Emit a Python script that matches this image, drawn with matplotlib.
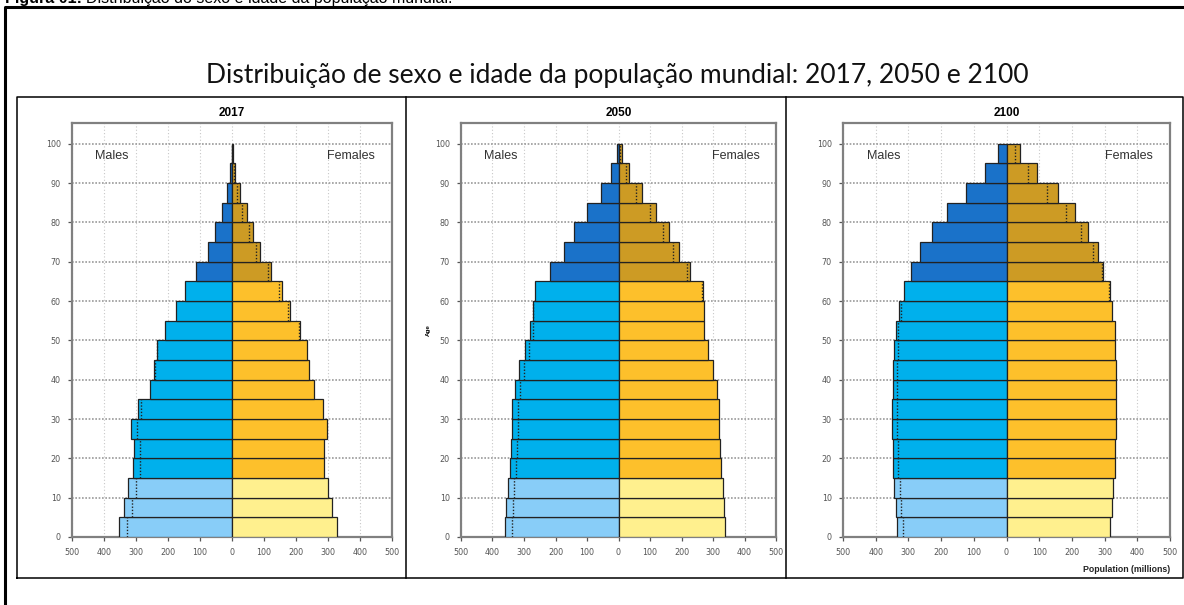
import numpy as np
import matplotlib
matplotlib.use("Agg")
import matplotlib.pyplot as plt
from matplotlib.lines import Line2D

# age groups 0-4 ... 95-99 (millions)
ages = np.arange(0, 100, 5)
years = ["2017", "2050", "2100"]

males_2017 = [353, 339, 324, 310, 305, 315, 294, 256, 245, 235,
              210, 175, 148, 114, 76, 52, 30, 16, 5, 1]
females_2017 = [327, 314, 301, 287, 287, 297, 284, 256, 241, 233,
                212, 181, 157, 123, 87, 65, 47, 24, 10, 3]
males_2050 = [359, 357, 352, 346, 342, 338, 338, 330, 316, 298,
              281, 272, 266, 219, 174, 142, 100, 56, 23, 6]
females_2050 = [339, 335, 332, 326, 323, 320, 319, 312, 300, 283,
                270, 270, 267, 228, 193, 160, 120, 75, 33, 10]
males_2100 = [336, 338, 343, 346, 348, 350, 350, 346, 346, 344,
              339, 330, 314, 292, 264, 227, 182, 123, 66, 27]
females_2100 = [317, 323, 325, 332, 332, 335, 335, 335, 335, 333,
                333, 323, 315, 296, 279, 249, 209, 156, 92, 42]

males = [males_2017, males_2050, males_2100]
females = [females_2017, females_2050, females_2100]

male_cols = ["#88cdf8", "#00b0ec", "#1a72c9"]
female_cols = ["#fff08e", "#fdc02b", "#cd9b24"]

W, H = 1184, 605
fig = plt.figure(figsize=(W / 100, H / 100), dpi=100)


def fx(px):
    return px / W


def fy(py):
    return 1 - py / H


# outer box (left/top only visible) and inner frame
fig.add_artist(Line2D([fx(5), fx(5), fx(1190)], [fy(620), fy(7), fy(7)],
                      color="black", lw=2.2))
fig.add_artist(Line2D([fx(17), fx(17), fx(1183), fx(1183), fx(17)],
                      [fy(578), fy(97), fy(97), fy(578), fy(578)],
                      color="black", lw=1.1))
for xd in (406, 786):
    fig.add_artist(Line2D([fx(xd), fx(xd)], [fy(97), fy(578)], color="black", lw=1.1))

# caption cut off at the top
cap = fig.text(fx(5), fy(3), "Figura 01: ", fontsize=11.5, fontweight="bold",
               family="Liberation Sans", ha="left", va="baseline")
rend = fig.canvas.get_renderer()
x1 = cap.get_window_extent(rend).x1
fig.text(x1 / W, fy(3), "Distribuição do sexo e idade da população mundial.",
         fontsize=11.5, family="Liberation Sans", ha="left", va="baseline")

fig.text(fx(617), fy(76), "Distribuição de sexo e idade da população mundial: 2017, 2050 e 2100",
         fontsize=19, family="Lato", ha="center", va="center", color="#111")

panels = [(72, 392), (461, 776), (843, 1170)]
top, bottom = 123, 537

for i, (l, r) in enumerate(panels):
    ax = fig.add_axes([fx(l), fy(bottom), fx(r - l), (bottom - top) / H])
    m = np.array(males[i])
    f = np.array(females[i])
    cols_m = [male_cols[0] if a < 15 else male_cols[1] if a < 65 else male_cols[2] for a in ages]
    cols_f = [female_cols[0] if a < 15 else female_cols[1] if a < 65 else female_cols[2] for a in ages]
    ax.barh(ages, -m, height=5, align="edge", color=cols_m, edgecolor="#222", lw=0.9, zorder=3)
    ax.barh(ages, f, height=5, align="edge", color=cols_f, edgecolor="#222", lw=0.9, zorder=3)
    # opposite sex value, dotted, where it falls inside the bar
    inm = f < m
    inf = m < f
    ax.vlines(-f[inm], ages[inm], ages[inm] + 5, colors="#222",
              linestyles=(0, (1, 1.3)), lw=1.0, zorder=4)
    ax.vlines(m[inf], ages[inf], ages[inf] + 5, colors="#222",
              linestyles=(0, (1, 1.3)), lw=1.0, zorder=4)

    ax.set_xlim(-500, 500)
    ax.set_ylim(0, 105.3)
    xt = np.arange(-500, 501, 100)
    ax.set_xticks(xt)
    ax.set_xticklabels([str(abs(v)) for v in xt])
    ax.set_yticks(np.arange(0, 101, 10))
    ax.tick_params(labelsize=5.8, labelcolor="#555", color="#555", length=3, width=0.9, pad=5)
    for v in xt:
        ax.axvline(v, color="#c8c8c8", ls=(0, (1, 2)), lw=0.8, zorder=1)
    for v in range(0, 101, 10):
        ax.axhline(v, color="#999", ls=(0, (1, 1)), lw=1.2, zorder=1)
    for s in ax.spines.values():
        s.set_color("#808080")
        s.set_linewidth(1.6)

    ax.text(-428, 97, "Males", fontsize=9, color="#333", family="Liberation Sans",
            ha="left", va="center", zorder=5)
    ax.text(448, 97, "Females", fontsize=9, color="#333", family="Liberation Sans",
            ha="right", va="center", zorder=5)
    fig.text(fx((l + r) / 2), fy(113), years[i], fontsize=8.5, fontweight="bold",
             family="Liberation Sans", ha="center", va="center")

fig.text(fx(428), fy(330), "Age", fontsize=4.5, fontweight="bold", rotation=90,
         family="Liberation Sans", ha="center", va="center")
fig.text(fx(1170), fy(569), "Population (millions)", fontsize=6.3, fontweight="bold",
         family="Liberation Sans", ha="right", va="center", color="#222")

fig.savefig("out.png", dpi=100)
